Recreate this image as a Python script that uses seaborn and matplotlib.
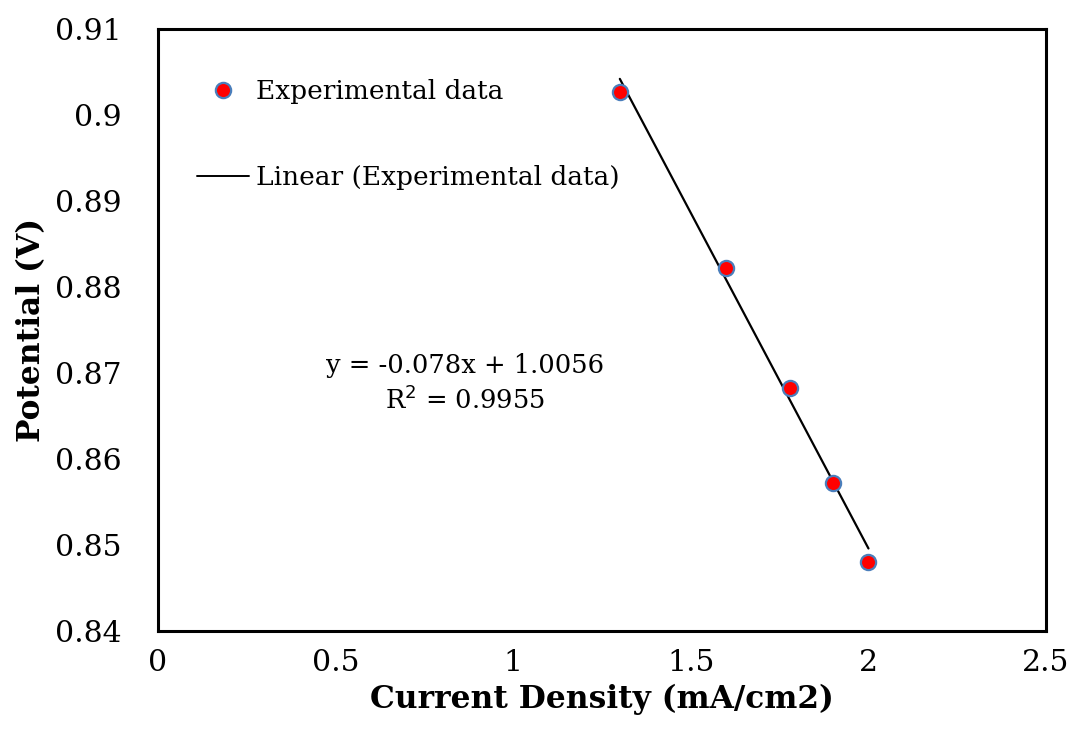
import matplotlib
matplotlib.use("Agg")
import matplotlib.pyplot as plt
import seaborn as sns
import numpy as np
import pandas as pd
from matplotlib.lines import Line2D

# data
current_density = [1.3, 1.6, 1.78, 1.9, 2.0]
potential = [0.9027, 0.8822, 0.8682, 0.8572, 0.8480]
slope = -0.078
intercept = 1.0056
r2 = 0.9955
x_ticks = [0, 0.5, 1, 1.5, 2, 2.5]
y_ticks = [0.84, 0.85, 0.86, 0.87, 0.88, 0.89, 0.90, 0.91]
y_tick_labels = ["0.84", "0.85", "0.86", "0.87", "0.88", "0.89", "0.9", "0.91"]

sns.set_style("white")
plt.rcParams['font.family'] = ['DejaVu Serif']
plt.rcParams['text.color'] = 'black'
plt.rcParams['axes.labelcolor'] = 'black'
plt.rcParams['xtick.color'] = 'black'
plt.rcParams['ytick.color'] = 'black'

df = pd.DataFrame({"x": current_density, "y": potential})
x_fit = [min(current_density), max(current_density)]
fit_df = pd.DataFrame({"x": x_fit, "y": [slope * v + intercept for v in x_fit]})

fig = plt.figure(figsize=(10.73, 7.49), dpi=100)
ax = fig.add_axes([0.1473, 0.1575, 0.8276, 0.8038])

sns.lineplot(data=fit_df, x="x", y="y", ax=ax, color="black", linewidth=1.6,
             legend=False, zorder=2)
sns.scatterplot(data=df, x="x", y="y", ax=ax, color="#ff0000", edgecolor="#4a7ebb",
                linewidth=1.6, s=120, zorder=3, legend=False)

ax.set_xlim(0, 2.5)
ax.set_ylim(0.84, 0.91)
ax.set_xticks(x_ticks)
ax.set_xticklabels([f"{v:g}" for v in x_ticks])
ax.set_yticks(y_ticks)
ax.set_yticklabels(y_tick_labels)
ax.tick_params(axis="both", length=0, labelsize=21.5, colors="black")
ax.tick_params(axis="y", pad=26)
ax.tick_params(axis="x", pad=13)

for sp in ax.spines.values():
    sp.set_visible(True)
    sp.set_color("black")
    sp.set_linewidth(2.2)

ax.set_xlabel("Current Density (mA/cm2)", fontsize=22.5, fontweight="bold", labelpad=5)
ax.set_ylabel("Potential (V)", fontsize=22.5, fontweight="bold", labelpad=6)

handles = [
    Line2D([], [], linestyle="none", marker="o", markersize=11, markerfacecolor="#ff0000",
           markeredgecolor="#4a7ebb", markeredgewidth=1.6),
    Line2D([], [], color="black", linewidth=1.4),
]
ax.legend(handles, ["Experimental data", "Linear (Experimental data)"],
          loc="upper left", bbox_to_anchor=(0.017, 0.956), frameon=False,
          fontsize=19, handlelength=1.97, handletextpad=0.27, labelspacing=2.3)

ax.text(0.864, 0.8709, f"y = {slope}x + {intercept}", fontsize=18.5,
        ha="center", va="center")
ax.text(0.864, 0.8669, f"R$^2$ = {r2}", fontsize=18.5, ha="center", va="center")

fig.savefig("out.png", dpi=100)
